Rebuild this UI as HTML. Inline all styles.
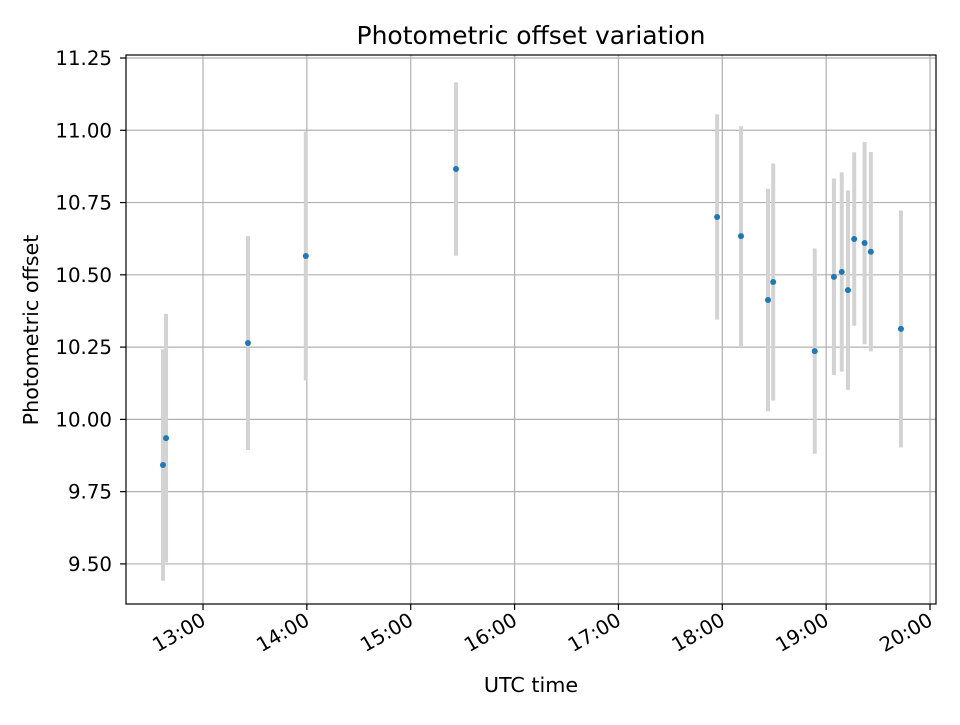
<!DOCTYPE html>
<html><head><meta charset="utf-8"><style>
body{margin:0;background:#fff;font-family:"Liberation Sans","DejaVu Sans",sans-serif;}
svg text{font-family:"DejaVu Sans","Liberation Sans",sans-serif;}
</style></head><body>
<svg id="chart" width="960" height="720" xmlns="http://www.w3.org/2000/svg">
<rect width="960" height="720" fill="#fff"/>
<g id="grid"></g>
<g id="errs"></g>
<g id="pts"></g>
<rect x="126" y="55" width="810" height="549" fill="none" stroke="#000" stroke-width="1.2"/>
<g id="ticks"></g>
<text x="531" y="44" font-size="25" text-anchor="middle">Photometric offset variation</text>
<text x="531" y="692" font-size="20.7" text-anchor="middle">UTC time</text>
<text x="38" y="330" font-size="20.7" text-anchor="middle" transform="rotate(-90 38 330)">Photometric offset</text>
</svg>
<script>
const timesH=[12.615,12.644,13.433,13.99,15.436,17.95,18.18,18.44,18.49,18.89,19.075,19.15,19.21,19.27,19.37,19.43,19.72];
const offsets=[9.842,9.935,10.264,10.565,10.866,10.70,10.634,10.413,10.475,10.236,10.493,10.51,10.447,10.624,10.61,10.58,10.313];
const errors=[0.40,0.43,0.37,0.43,0.30,0.355,0.38,0.385,0.41,0.355,0.34,0.345,0.345,0.30,0.35,0.345,0.41];
const xTickLabels=["13:00","14:00","15:00","16:00","17:00","18:00","19:00","20:00"];
const xTickHours=[13,14,15,16,17,18,19,20];
const yTickLabels=["9.50","9.75","10.00","10.25","10.50","10.75","11.00","11.25"];
const yTickVals=[9.5,9.75,10,10.25,10.5,10.75,11,11.25];
const NS="http://www.w3.org/2000/svg";
const X=h=>203+(h-13)*103.86;
const Y=v=>58+(11.25-v)*289.1;
function mk(tag,attrs,parent){const e=document.createElementNS(NS,tag);for(const k in attrs)e.setAttribute(k,attrs[k]);parent.appendChild(e);return e;}
const grid=document.getElementById('grid'),ticks=document.getElementById('ticks'),errs=document.getElementById('errs'),pts=document.getElementById('pts');
xTickHours.forEach((h,i)=>{const x=X(h);
 const g=mk('line',{x1:x,x2:x,y1:55,y2:604,stroke:'#b0b0b0','stroke-width':1.2},grid);
 
 
 const t=mk('line',{x1:x,x2:x,y1:604,y2:610,stroke:'#000','stroke-width':1.2},ticks);
 
 
 const l=mk('text',{x:x+4,y:624,'font-size':19.8,'text-anchor':'end',transform:`rotate(-30 ${x+4} 624)`},ticks);
 l.textContent=xTickLabels[i];
 
 
});
yTickVals.forEach((v,i)=>{const y=Y(v);
 const g=mk('line',{x1:126,x2:936,y1:y,y2:y,stroke:'#b0b0b0','stroke-width':1.2},grid);
 
 
 const t=mk('line',{x1:120,x2:126,y1:y,y2:y,stroke:'#000','stroke-width':1.2},ticks);
 
 
 const l=mk('text',{x:112,y:y+7,'font-size':19.8,'text-anchor':'end'},ticks);
 l.textContent=yTickLabels[i];
 
 
});
timesH.forEach((h,i)=>{const x=X(h);
 const e=mk('line',{x1:x,x2:x,y1:Y(offsets[i]-errors[i]),y2:Y(offsets[i]+errors[i]),stroke:'#d3d3d3','stroke-width':4},errs);
 
 
 const c=mk('circle',{cx:x,cy:Y(offsets[i]),r:3,fill:'#1f77b4'},pts);
 
 
});
</script>
</body></html>
